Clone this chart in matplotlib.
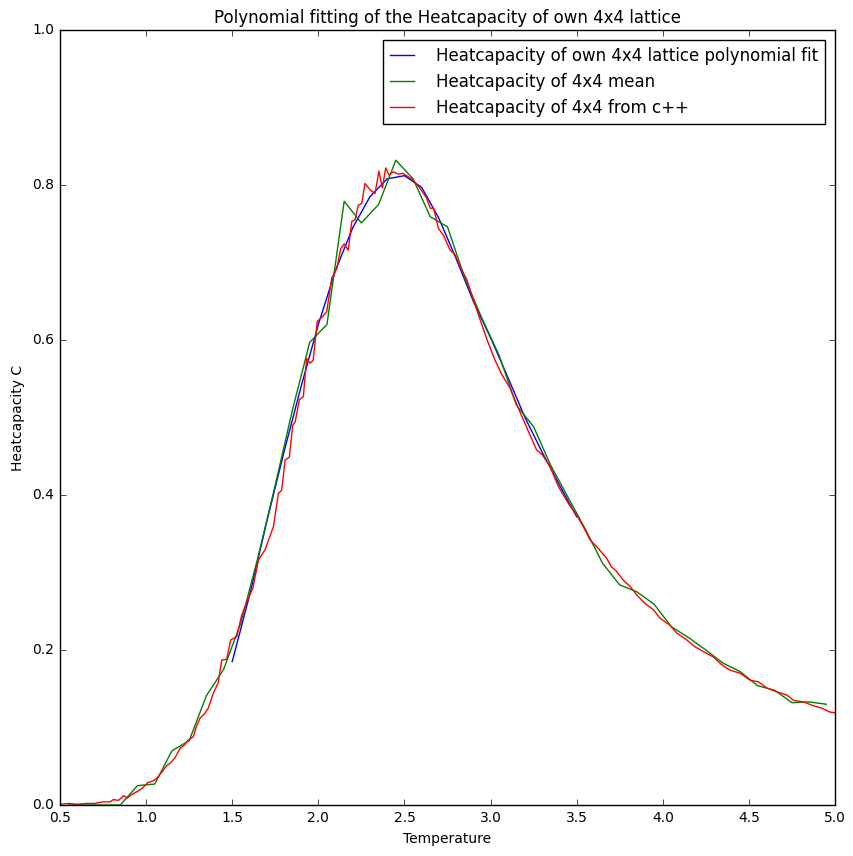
import matplotlib
matplotlib.use("Agg")
import matplotlib.pyplot as plt

# Polynomial fit (blue)
T_fit = [1.5, 1.6, 1.7, 1.8, 1.9, 2.0, 2.1, 2.2, 2.3, 2.4, 2.5, 2.6, 2.7, 2.8,
         2.9, 3.0, 3.1, 3.2, 3.3, 3.4, 3.5]
C_fit = [0.185, 0.270, 0.365, 0.455, 0.540, 0.620, 0.690, 0.745, 0.785, 0.808,
         0.812, 0.797, 0.757, 0.705, 0.650, 0.603, 0.552, 0.500, 0.455, 0.413, 0.372]

# Mean (green)
T_mean = [0.55, 0.65, 0.75, 0.85, 0.95, 1.05, 1.15, 1.25, 1.35, 1.45, 1.55, 1.65,
          1.75, 1.85, 1.95, 2.05, 2.15, 2.25, 2.35, 2.45, 2.55, 2.65, 2.75, 2.85,
          2.95, 3.05, 3.15, 3.25, 3.35, 3.45, 3.55, 3.65, 3.75, 3.85, 3.95, 4.05,
          4.15, 4.25, 4.35, 4.45, 4.55, 4.65, 4.75, 4.85, 4.95]
C_mean = [0.0, 0.0, 0.0, 0.0, 0.025, 0.027, 0.070, 0.083, 0.141, 0.175, 0.235, 0.320,
          0.413, 0.510, 0.597, 0.620, 0.779, 0.751, 0.775, 0.832, 0.808, 0.759, 0.746, 0.680,
          0.628, 0.580, 0.516, 0.488, 0.438, 0.397, 0.356, 0.312, 0.284, 0.275, 0.259, 0.230,
          0.216, 0.200, 0.183, 0.172, 0.154, 0.148, 0.132, 0.133, 0.130]

# From c++ (red)
T_cpp = [0.50, 0.55, 0.60, 0.65, 0.70, 0.75, 0.79, 0.81, 0.84, 0.87, 0.89, 0.92,
         0.945, 0.98, 1.01, 1.04, 1.06, 1.09, 1.12, 1.14, 1.168, 1.197, 1.22, 1.245,
         1.274, 1.29, 1.313, 1.34, 1.361, 1.39, 1.419, 1.439, 1.468, 1.491, 1.526,
         1.555, 1.594, 1.62, 1.652, 1.69, 1.739, 1.768, 1.787, 1.807, 1.832, 1.851,
         1.865, 1.89, 1.913, 1.932, 1.952, 1.97, 1.994, 2.024, 2.049, 2.078, 2.107,
         2.13, 2.15, 2.174, 2.194, 2.213, 2.232, 2.252, 2.271, 2.30, 2.329, 2.352,
         2.372, 2.391, 2.41, 2.436, 2.465, 2.49, 2.52, 2.552, 2.59, 2.629, 2.65, 2.67,
         2.697, 2.727, 2.765, 2.794, 2.823, 2.862, 2.90, 2.94, 2.98, 3.026, 3.064,
         3.113, 3.171, 3.22, 3.268, 3.30, 3.345, 3.394, 3.452, 3.50, 3.539, 3.578,
         3.626, 3.675, 3.703, 3.73, 3.771, 3.81, 3.849, 3.897, 3.945, 3.984, 4.042,
         4.081, 4.139, 4.188, 4.236, 4.294, 4.342, 4.39, 4.449, 4.507, 4.555, 4.604,
         4.662, 4.72, 4.76, 4.817, 4.875, 4.923, 4.97, 5.0]
C_cpp = [0.001, 0.002, 0.001, 0.002, 0.002, 0.004, 0.004, 0.007, 0.006, 0.012, 0.009, 0.014,
         0.017, 0.022, 0.029, 0.031, 0.034, 0.042, 0.051, 0.054, 0.061, 0.073, 0.077, 0.084,
         0.088, 0.100, 0.112, 0.118, 0.125, 0.144, 0.158, 0.187, 0.188, 0.213, 0.217,
         0.245, 0.267, 0.280, 0.316, 0.329, 0.359, 0.402, 0.406, 0.445, 0.449, 0.490,
         0.494, 0.523, 0.527, 0.576, 0.570, 0.574, 0.624, 0.630, 0.637, 0.680, 0.692,
         0.718, 0.724, 0.716, 0.753, 0.755, 0.774, 0.776, 0.802, 0.794, 0.789, 0.818,
         0.796, 0.822, 0.813, 0.817, 0.814, 0.815, 0.811, 0.806, 0.796, 0.783, 0.770, 0.770,
         0.744, 0.735, 0.716, 0.710, 0.695, 0.678, 0.652, 0.626, 0.600, 0.574, 0.556,
         0.538, 0.507, 0.482, 0.458, 0.452, 0.437, 0.411, 0.389, 0.374, 0.359, 0.342,
         0.331, 0.318, 0.307, 0.302, 0.290, 0.282, 0.271, 0.260, 0.252, 0.241, 0.232,
         0.222, 0.213, 0.204, 0.198, 0.191, 0.181, 0.174, 0.170, 0.161, 0.159, 0.151,
         0.146, 0.142, 0.135, 0.133, 0.128, 0.125, 0.120, 0.119]

labels = ["Heatcapacity of own 4x4 lattice polynomial fit",
          "Heatcapacity of 4x4 mean",
          "Heatcapacity of 4x4 from c++"]

plt.style.use("classic")
plt.rcParams["font.family"] = ["DejaVu Sans"]
plt.rcParams["figure.facecolor"] = "white"
plt.rcParams["savefig.facecolor"] = "white"

fig = plt.figure(figsize=(8.54, 8.56), dpi=100)
ax = fig.add_axes([60 / 854, 51 / 856, 775 / 854, 775 / 856])

ax.plot(T_fit, C_fit, color="blue", lw=1.0, label=labels[0])
ax.plot(T_mean, C_mean, color="green", lw=1.0, label=labels[1])
ax.plot(T_cpp, C_cpp, color="red", lw=1.0, label=labels[2])

ax.set_xlim(0.5, 5.0)
ax.set_ylim(0.0, 1.0)
ax.set_xticks([0.5, 1.0, 1.5, 2.0, 2.5, 3.0, 3.5, 4.0, 4.5, 5.0])
ax.set_yticks([0.0, 0.2, 0.4, 0.6, 0.8, 1.0])
ax.tick_params(labelsize=10)
ax.set_xlabel("Temperature", fontsize=10)
ax.set_ylabel("Heatcapacity C", fontsize=10)
ax.set_title("Polynomial fitting of the Heatcapacity of own 4x4 lattice", fontsize=12)

ax.legend(loc="upper right", fontsize=12, fancybox=False, numpoints=1,
          handlelength=1.45, handletextpad=1.35, borderaxespad=0.6)

fig.savefig("out.png", dpi=100)
